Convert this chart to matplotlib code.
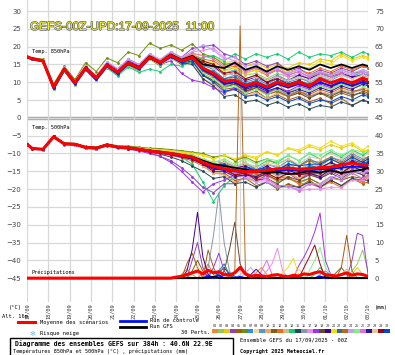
import matplotlib
matplotlib.use("Agg")
import matplotlib.pyplot as plt
import matplotlib.patheffects as pe
from matplotlib.lines import Line2D
from matplotlib.patches import Rectangle
from matplotlib.transforms import ScaledTranslation

""" Data read from the GEFS chart (17/09/2025 00Z run) """
# hours of the temperature points
HOURS_T = [0, 6, 18, 30, 42, 54, 66, 78, 90, 102, 114, 126, 138, 150, 162, 174, 186,
           198, 210, 222, 234, 246, 258, 270, 282, 294, 306, 318, 330, 342, 354, 366, 378, 384]
# precipitation points every 6 hours
HOURS_P = list(range(0, 385, 6))

DATES = ["17/09", "18/09", "19/09", "20/09", "21/09", "22/09", "23/09", "24/09", "25/09",
         "26/09", "27/09", "28/09", "29/09", "30/09", "01/10", "02/10", "03/10"]

MEAN_850 = [17.1, 16.6, 16.0, 8.6, 13.7, 9.8, 14.0, 11.2, 14.8, 12.8, 15.4, 14.0, 17.0, 15.5, 17.5, 16.0, 17.0,
            14.0, 12.5, 10.3, 10.6, 9.1, 9.9, 8.7, 10.0, 9.1, 10.0, 9.0, 11.0, 9.8, 10.9, 9.8, 11.2, 10.6]
CTRL_850 = [17.0, 16.5, 15.9, 8.2, 13.4, 9.4, 13.7, 10.6, 14.5, 12.4, 15.1, 13.7, 16.8, 15.3, 17.2, 15.7, 16.7,
            13.5, 12.0, 9.5, 10.0, 8.5, 9.5, 8.0, 9.5, 8.5, 9.5, 8.5, 10.0, 9.0, 10.0, 9.0, 10.0, 9.5]
GFS_850 = [17.1, 16.7, 16.1, 8.8, 13.9, 10.0, 14.2, 11.4, 15.0, 13.0, 15.6, 14.3, 17.3, 15.7, 17.8, 16.3, 17.4,
           15.0, 14.5, 14.0, 15.5, 13.5, 14.5, 13.0, 14.5, 13.5, 14.5, 13.5, 15.0, 14.0, 15.0, 14.0, 15.0, 14.5]

PERTS_850 = [
    [17.2, 16.7, 16.2, 8.9, 13.9, 10.2, 14.3, 11.6, 15.1, 13.0, 15.8, 14.4, 17.4, 15.2, 17.0, 15.0, 15.5,
     13.0, 12.0, 10.5, 11.5, 9.0, 10.5, 8.0, 9.5, 7.0, 8.5, 7.5, 9.0, 8.0, 9.5, 8.5, 10.0, 9.5],
    [17.0, 16.5, 15.8, 8.2, 13.5, 9.5, 13.8, 10.9, 14.5, 12.4, 15.0, 13.6, 16.6, 15.0, 17.2, 16.4, 17.6,
     16.0, 15.0, 13.5, 14.0, 12.0, 12.5, 11.0, 12.5, 11.5, 12.0, 11.0, 12.5, 12.0, 13.0, 12.0, 13.5, 13.0],
    [17.1, 16.8, 16.3, 9.0, 14.1, 10.0, 14.4, 11.5, 15.3, 13.4, 15.9, 14.5, 17.6, 16.0, 18.0, 16.8, 18.0,
     17.5, 17.0, 15.5, 16.0, 14.5, 15.5, 14.0, 15.0, 14.0, 15.5, 15.0, 16.5, 16.0, 18.0, 16.5, 17.5, 17.0],
    [17.3, 16.9, 16.1, 8.4, 13.8, 9.6, 14.1, 11.0, 15.6, 13.6, 16.5, 15.0, 17.8, 16.0, 18.5, 17.0, 19.5,
     20.0, 20.5, 18.0, 17.0, 15.0, 16.0, 14.5, 15.5, 13.0, 14.0, 12.0, 13.5, 12.5, 14.0, 13.0, 14.5, 14.0],
    [17.0, 16.4, 15.7, 8.0, 13.2, 9.2, 13.5, 10.5, 14.2, 12.0, 14.8, 13.2, 16.5, 14.6, 16.8, 15.0, 15.8,
     12.0, 10.5, 8.0, 8.5, 6.5, 7.5, 5.5, 6.5, 5.0, 6.0, 4.5, 5.5, 4.0, 5.5, 3.5, 5.0, 4.5],
    [17.2, 16.9, 16.5, 9.5, 14.5, 10.8, 15.5, 13.0, 16.8, 15.5, 18.5, 17.5, 21.0, 19.5, 20.5, 19.0, 20.8,
     18.0, 17.0, 15.0, 15.5, 13.0, 14.0, 12.5, 13.5, 12.0, 13.0, 11.5, 13.0, 12.0, 13.5, 12.5, 13.0, 12.5],
    [17.1, 16.6, 16.0, 8.6, 13.7, 9.7, 14.0, 11.2, 14.8, 12.6, 15.3, 14.0, 17.0, 15.3, 17.3, 16.2, 17.2,
     15.0, 13.5, 11.0, 12.0, 10.0, 11.0, 9.5, 11.0, 10.0, 11.0, 10.5, 12.0, 11.0, 12.5, 11.5, 13.0, 12.5],
    [17.0, 16.5, 15.9, 8.5, 13.6, 9.9, 13.9, 11.3, 14.7, 12.9, 15.2, 13.9, 16.8, 15.6, 17.4, 15.8, 16.6,
     13.5, 12.5, 10.0, 10.5, 8.5, 9.5, 8.0, 9.5, 8.5, 10.0, 9.0, 10.5, 9.5, 11.0, 10.0, 11.0, 10.5],
    [17.2, 16.7, 16.1, 8.8, 13.9, 10.0, 14.2, 11.4, 15.0, 13.0, 15.6, 14.2, 17.2, 15.7, 17.7, 16.3, 17.3,
     14.5, 14.0, 12.5, 13.5, 11.0, 12.0, 10.5, 12.0, 10.5, 11.5, 10.0, 11.5, 10.5, 12.0, 11.0, 12.5, 12.0],
    [17.0, 16.4, 15.9, 8.3, 13.4, 9.4, 13.7, 10.8, 14.4, 12.3, 15.0, 13.5, 16.6, 15.0, 16.9, 15.4, 16.2,
     11.0, 9.5, 7.0, 8.0, 6.0, 7.0, 5.5, 7.0, 6.0, 7.0, 6.0, 7.5, 6.5, 8.0, 7.0, 8.5, 8.0],
    [17.1, 16.6, 16.0, 8.7, 13.8, 9.8, 14.1, 11.1, 14.9, 12.7, 15.5, 14.1, 17.1, 15.4, 17.4, 15.9, 16.8,
     13.0, 11.5, 9.0, 9.5, 7.5, 8.5, 7.0, 8.0, 6.5, 7.5, 6.0, 7.0, 5.5, 7.0, 6.0, 7.5, 7.0],
    [17.2, 16.8, 16.2, 9.1, 14.0, 10.3, 14.5, 11.8, 15.4, 13.5, 16.0, 14.6, 17.6, 16.2, 18.0, 16.6, 17.8,
     16.5, 16.0, 14.0, 14.5, 12.5, 13.5, 12.0, 13.5, 12.5, 13.5, 12.5, 14.0, 13.0, 14.5, 13.5, 14.5, 14.0],
    [17.0, 16.5, 15.8, 8.4, 13.5, 9.6, 13.8, 11.0, 14.6, 12.5, 15.1, 13.7, 16.8, 15.2, 17.1, 15.6, 16.4,
     12.5, 11.0, 9.0, 10.0, 8.5, 9.0, 7.5, 8.5, 7.5, 8.5, 7.5, 9.0, 8.5, 9.5, 9.0, 10.0, 9.5],
    [17.1, 16.6, 15.9, 8.6, 13.6, 9.6, 13.5, 10.8, 14.0, 11.8, 14.3, 12.8, 13.7, 13.0, 15.0, 14.5, 16.0,
     17.0, 17.5, 16.0, 18.0, 16.5, 18.0, 17.0, 18.0, 16.5, 18.5, 17.0, 18.0, 17.5, 18.5, 17.0, 18.5, 18.0],
    [17.1, 16.7, 16.1, 8.7, 13.8, 9.9, 14.2, 11.3, 15.0, 12.9, 15.6, 14.3, 17.3, 15.5, 17.6, 15.5, 15.0,
     11.0, 9.0, 6.0, 6.5, 4.5, 5.0, 3.5, 4.5, 3.0, 4.0, 2.5, 3.5, 3.0, 4.5, 3.5, 5.0, 4.5],
    [17.0, 16.5, 15.9, 8.5, 13.6, 9.8, 14.0, 11.1, 14.8, 12.8, 15.3, 14.0, 17.0, 15.5, 17.4, 15.8, 16.5,
     13.5, 12.0, 10.0, 10.5, 8.5, 9.0, 7.0, 8.0, 6.5, 7.5, 6.0, 7.0, 6.5, 7.5, 7.0, 8.0, 7.5],
    [17.2, 16.8, 16.2, 8.9, 14.0, 10.1, 14.4, 11.5, 15.2, 13.2, 15.8, 14.4, 17.4, 15.9, 17.9, 16.5, 18.5,
     19.0, 19.5, 17.0, 16.0, 13.5, 14.5, 12.5, 13.5, 11.5, 12.5, 11.0, 12.5, 11.5, 13.0, 12.0, 13.0, 12.5],
    [17.1, 16.6, 16.0, 8.6, 13.6, 9.8, 14.2, 11.4, 15.5, 13.8, 16.2, 14.5, 17.2, 15.0, 16.0, 12.5, 10.6,
     10.0, 8.5, 7.0, 8.5, 7.0, 8.5, 7.0, 8.5, 7.5, 9.0, 8.0, 9.5, 8.5, 10.0, 9.0, 10.5, 10.0],
    [17.0, 16.5, 15.8, 8.3, 13.4, 9.5, 13.8, 11.0, 14.6, 12.6, 15.2, 13.8, 16.8, 15.3, 17.2, 15.6, 16.3,
     12.0, 10.5, 8.5, 9.5, 7.5, 8.5, 6.5, 7.5, 6.0, 7.0, 5.5, 7.0, 6.0, 7.5, 6.5, 7.0, 6.5],
    [17.2, 16.7, 16.1, 8.8, 13.9, 9.9, 14.1, 11.3, 14.9, 12.9, 15.5, 14.1, 17.1, 15.6, 17.6, 16.2, 17.4,
     15.5, 14.5, 12.0, 12.5, 10.5, 11.5, 10.0, 11.5, 10.5, 12.0, 11.0, 12.5, 11.5, 12.5, 11.5, 12.0, 11.5],
    [17.1, 16.7, 16.2, 9.0, 14.0, 10.2, 14.3, 11.6, 15.1, 13.1, 15.7, 14.3, 17.3, 15.8, 17.8, 16.4, 17.6,
     16.0, 15.5, 13.0, 14.0, 12.5, 13.5, 12.5, 14.0, 13.0, 14.5, 14.0, 16.0, 15.0, 17.5, 16.0, 17.0, 16.5],
    [17.0, 16.5, 15.9, 8.4, 13.5, 9.6, 13.9, 11.0, 14.7, 12.6, 15.2, 13.8, 16.9, 15.2, 17.2, 15.7, 16.7,
     14.0, 13.0, 11.0, 11.5, 9.5, 10.5, 9.0, 10.5, 9.5, 10.5, 9.5, 10.5, 10.0, 11.0, 10.0, 10.5, 10.0],
    [17.1, 16.6, 16.0, 8.6, 13.7, 9.8, 14.0, 11.2, 14.8, 12.8, 15.4, 14.0, 17.0, 15.5, 17.5, 16.0, 17.0,
     13.0, 12.0, 9.5, 10.0, 8.0, 8.5, 6.5, 7.5, 6.0, 7.5, 6.5, 8.0, 7.0, 8.5, 7.5, 8.0, 7.5],
    [17.2, 16.8, 16.3, 9.0, 14.2, 10.3, 14.6, 11.8, 15.8, 13.8, 16.4, 15.0, 18.0, 16.5, 18.6, 17.0, 18.6,
     20.5, 19.0, 16.5, 17.0, 14.5, 15.0, 13.0, 14.0, 12.5, 13.5, 12.0, 13.0, 12.0, 13.5, 12.5, 13.5, 13.0],
    [17.0, 16.4, 15.7, 8.1, 13.2, 9.3, 13.6, 10.7, 14.3, 12.2, 14.9, 13.4, 16.4, 14.9, 16.7, 15.3, 16.2,
     12.5, 11.0, 8.5, 9.0, 7.0, 8.0, 6.5, 8.0, 7.0, 8.5, 7.5, 9.0, 8.0, 9.5, 8.5, 9.0, 8.5],
    [17.1, 16.7, 16.1, 8.8, 13.9, 10.0, 14.3, 11.5, 15.2, 13.2, 15.7, 14.4, 17.4, 15.8, 17.9, 16.6, 18.2,
     17.5, 16.5, 14.5, 15.0, 13.0, 14.0, 12.5, 13.5, 12.0, 13.0, 11.5, 12.5, 11.5, 12.5, 11.0, 12.0, 11.5],
    [17.0, 16.6, 15.9, 8.5, 13.6, 9.7, 13.9, 11.1, 14.7, 12.7, 15.3, 13.9, 16.9, 15.4, 17.3, 15.8, 16.8,
     14.0, 12.5, 10.0, 10.0, 8.0, 9.0, 7.5, 8.5, 7.0, 8.0, 7.0, 8.5, 7.5, 9.0, 8.0, 9.5, 9.0],
    [17.1, 16.6, 16.0, 8.7, 13.8, 9.9, 14.1, 11.3, 14.9, 12.9, 15.5, 14.1, 17.1, 15.6, 17.6, 16.1, 17.1,
     15.0, 14.0, 12.0, 12.5, 11.0, 11.5, 10.5, 11.5, 10.5, 11.5, 10.5, 12.0, 11.0, 12.0, 11.0, 12.0, 11.5],
    [17.2, 16.7, 16.1, 8.8, 13.8, 9.9, 14.2, 11.4, 15.0, 13.0, 15.6, 14.2, 17.2, 15.6, 17.7, 16.3, 17.5,
     16.0, 15.0, 12.5, 13.0, 11.0, 12.0, 10.0, 11.0, 9.5, 10.5, 9.0, 10.0, 9.0, 10.5, 9.5, 10.5, 10.0],
    [17.0, 16.5, 15.8, 8.3, 13.4, 9.5, 13.7, 10.9, 14.5, 12.4, 15.0, 13.6, 16.7, 15.1, 17.0, 15.4, 16.0,
     12.0, 10.0, 7.5, 8.0, 6.0, 6.5, 5.0, 6.0, 4.5, 5.5, 4.0, 5.0, 4.5, 6.0, 5.0, 6.5, 6.0],
]

MEAN_500 = [-7.4, -8.6, -8.8, -5.3, -7.3, -7.4, -8.3, -8.5, -7.6, -8.2, -8.4, -8.8, -9.3, -9.6, -10.0, -10.5, -11.0,
            -12.5, -13.6, -14.3, -14.8, -15.1, -15.0, -14.7, -14.3, -14.1, -14.4, -14.3, -14.0, -13.8, -13.2, -12.7, -13.2, -13.3]
CTRL_500 = [-7.5, -8.7, -8.9, -5.4, -7.4, -7.5, -8.4, -8.6, -7.7, -8.3, -8.5, -8.9, -9.4, -9.7, -10.2, -10.7, -11.3,
            -12.8, -14.0, -14.7, -15.0, -15.3, -15.0, -15.2, -14.8, -14.6, -14.9, -14.7, -14.5, -14.3, -14.0, -13.6, -13.8, -13.5]
GFS_500 = [-7.4, -8.6, -8.8, -5.2, -7.2, -7.3, -8.2, -8.4, -7.5, -8.1, -8.3, -8.7, -9.2, -9.5, -9.9, -10.4, -10.9,
           -12.0, -13.0, -13.5, -14.0, -14.5, -15.0, -15.5, -15.2, -15.8, -15.5, -15.0, -15.3, -14.8, -15.5, -15.0, -14.5, -14.0]

PERTS_500 = [
    [-7.3, -8.5, -8.7, -5.0, -7.1, -7.2, -8.1, -8.3, -7.4, -8.0, -8.2, -8.5, -9.0, -9.2, -9.5, -10.0, -10.4,
     -11.5, -13.0, -12.5, -14.5, -13.5, -15.5, -14.5, -16.5, -15.0, -17.0, -15.5, -16.5, -14.5, -16.0, -14.0, -15.5, -14.5],
    [-7.4, -8.7, -8.9, -5.4, -7.4, -7.5, -8.4, -8.7, -7.8, -8.3, -8.5, -8.9, -9.4, -9.8, -10.3, -10.8, -11.5,
     -13.0, -14.5, -14.0, -16.0, -15.5, -17.5, -16.0, -18.0, -17.0, -18.5, -17.0, -18.5, -16.5, -17.5, -15.5, -17.0, -16.5],
    [-7.5, -8.6, -8.8, -5.2, -7.2, -7.3, -8.2, -8.4, -7.5, -8.0, -8.1, -8.4, -8.7, -8.9, -9.2, -9.5, -9.8,
     -10.5, -11.5, -10.5, -12.0, -10.5, -11.5, -9.5, -10.5, -8.5, -9.5, -8.0, -9.0, -7.5, -8.5, -7.5, -9.5, -9.0],
    [-7.4, -8.6, -8.9, -5.5, -7.5, -7.6, -8.5, -8.7, -7.9, -8.5, -8.8, -9.3, -10.0, -10.8, -12.0, -14.0, -16.5,
     -19.5, -21.0, -18.5, -18.5, -16.5, -18.0, -16.0, -17.5, -15.5, -17.5, -15.5, -17.0, -15.0, -16.5, -14.5, -16.0, -15.0],
    [-7.3, -8.5, -8.8, -5.3, -7.3, -7.4, -8.3, -8.5, -7.7, -8.3, -8.6, -9.0, -9.5, -10.0, -10.5, -11.2, -12.0,
     -13.5, -15.5, -15.5, -17.5, -17.0, -19.0, -18.0, -20.0, -18.5, -19.5, -17.5, -19.5, -17.5, -19.0, -17.0, -18.5, -18.0],
    [-7.4, -8.6, -8.7, -5.1, -7.1, -7.2, -8.0, -8.2, -7.3, -7.8, -7.9, -8.2, -8.5, -8.6, -8.9, -9.2, -9.6,
     -10.0, -11.0, -10.5, -12.0, -11.0, -12.5, -11.5, -13.0, -11.5, -13.5, -12.0, -13.5, -11.5, -13.0, -11.0, -12.5, -11.5],
    [-7.4, -8.6, -8.8, -5.3, -7.3, -7.4, -8.3, -8.5, -7.6, -8.2, -8.4, -8.8, -9.3, -9.6, -10.1, -10.6, -11.2,
     -12.5, -13.5, -12.5, -14.0, -12.5, -14.5, -13.0, -14.0, -12.0, -13.5, -11.5, -13.0, -11.0, -12.0, -10.0, -11.5, -11.0],
    [-7.5, -8.7, -8.9, -5.4, -7.4, -7.5, -8.4, -8.6, -7.7, -8.3, -8.5, -8.9, -9.4, -9.7, -10.2, -10.8, -11.4,
     -13.0, -15.0, -15.0, -17.0, -16.0, -17.5, -15.0, -16.0, -14.0, -15.5, -15.0, -16.5, -14.5, -15.5, -13.5, -14.5, -13.0],
    [-7.3, -8.5, -8.7, -5.2, -7.2, -7.3, -8.2, -8.4, -7.5, -8.1, -8.3, -8.7, -9.1, -9.4, -9.8, -10.2, -10.7,
     -12.0, -13.0, -12.5, -13.5, -13.0, -14.5, -14.0, -15.0, -13.0, -14.5, -13.0, -14.5, -12.5, -13.5, -11.5, -13.0, -12.0],
    [-7.4, -8.6, -8.8, -5.3, -7.3, -7.4, -8.3, -8.5, -7.6, -8.2, -8.5, -8.9, -9.4, -9.8, -10.3, -10.9, -11.6,
     -13.5, -15.5, -16.0, -18.0, -17.0, -18.0, -16.5, -17.5, -15.5, -17.0, -15.0, -16.5, -14.5, -16.0, -14.0, -15.5, -14.5],
    [-7.3, -8.5, -8.8, -5.2, -7.2, -7.3, -8.2, -8.4, -7.5, -8.1, -8.4, -8.8, -9.2, -9.6, -10.0, -10.5, -11.0,
     -12.5, -14.0, -14.0, -15.5, -15.0, -16.5, -16.0, -17.5, -17.0, -18.0, -17.0, -18.5, -16.5, -17.5, -16.5, -17.0, -16.0],
    [-7.4, -8.7, -8.9, -5.4, -7.4, -7.5, -8.4, -8.6, -7.7, -8.3, -8.5, -8.8, -9.2, -9.5, -9.8, -10.3, -10.8,
     -12.0, -13.0, -13.0, -14.5, -14.0, -16.0, -15.5, -17.0, -16.5, -18.5, -18.5, -19.5, -18.0, -19.5, -17.0, -18.0, -16.5],
    [-7.5, -8.6, -8.8, -5.3, -7.3, -7.4, -8.3, -8.5, -7.6, -8.2, -8.4, -8.7, -9.1, -9.4, -9.8, -10.2, -10.6,
     -11.5, -12.5, -12.0, -13.5, -13.0, -13.5, -13.0, -13.5, -13.0, -14.5, -13.0, -13.5, -13.0, -13.5, -12.0, -13.5, -13.5],
    [-7.4, -8.6, -8.8, -5.3, -7.2, -7.3, -8.2, -8.4, -7.5, -8.1, -8.3, -8.6, -9.0, -9.4, -10.0, -11.0, -13.0,
     -18.0, -23.5, -19.0, -16.5, -14.0, -14.0, -12.0, -12.5, -10.5, -12.0, -10.0, -11.5, -9.5, -11.0, -9.0, -10.5, -9.5],
    [-7.3, -8.5, -8.7, -5.2, -7.2, -7.3, -8.2, -8.4, -7.6, -8.2, -8.5, -9.0, -9.6, -10.2, -11.0, -12.0, -13.5,
     -15.0, -17.0, -16.5, -18.5, -18.0, -19.5, -18.0, -19.5, -19.0, -19.5, -18.0, -19.5, -17.5, -19.0, -17.0, -17.5, -17.5],
    [-7.4, -8.6, -8.8, -5.3, -7.3, -7.4, -8.3, -8.5, -7.6, -8.2, -8.4, -8.8, -9.2, -9.6, -10.0, -10.5, -11.0,
     -12.0, -13.5, -13.5, -15.0, -14.5, -16.0, -14.5, -16.0, -15.5, -16.0, -14.5, -16.0, -14.0, -14.5, -14.0, -14.5, -14.5],
    [-7.5, -8.7, -8.9, -5.4, -7.4, -7.5, -8.4, -8.6, -7.7, -8.3, -8.6, -9.0, -9.5, -9.9, -10.4, -11.0, -11.5,
     -12.5, -14.0, -14.0, -16.0, -16.0, -17.5, -17.5, -19.0, -19.0, -20.5, -20.0, -20.0, -19.5, -19.5, -17.5, -17.5, -16.5],
    [-7.4, -8.6, -8.8, -5.2, -7.2, -7.4, -8.3, -8.5, -7.6, -8.2, -8.5, -9.0, -9.8, -10.8, -12.5, -15.0, -18.0,
     -20.8, -18.5, -17.5, -16.0, -16.5, -15.0, -16.0, -14.5, -15.5, -14.0, -15.0, -13.5, -14.5, -13.0, -14.0, -13.0, -13.0],
    [-7.3, -8.5, -8.7, -5.2, -7.2, -7.3, -8.2, -8.4, -7.5, -8.1, -8.4, -8.8, -9.2, -9.6, -10.1, -10.7, -11.3,
     -12.5, -14.0, -14.0, -16.0, -15.5, -17.5, -17.0, -18.5, -16.5, -17.5, -16.0, -17.0, -15.5, -17.0, -15.0, -16.0, -15.5],
    [-7.4, -8.6, -8.8, -5.3, -7.3, -7.4, -8.3, -8.5, -7.6, -8.2, -8.4, -8.8, -9.2, -9.5, -9.9, -10.4, -10.9,
     -12.0, -13.0, -12.5, -14.0, -13.5, -15.0, -13.5, -15.0, -14.5, -16.0, -15.5, -16.5, -14.5, -15.5, -13.5, -15.0, -14.0],
    [-7.4, -8.6, -8.8, -5.2, -7.2, -7.3, -8.2, -8.4, -7.5, -8.0, -8.2, -8.5, -8.8, -9.0, -9.3, -9.6, -10.0,
     -10.5, -11.5, -10.5, -11.5, -10.5, -11.0, -9.5, -10.5, -8.5, -9.0, -7.5, -8.5, -6.5, -8.0, -7.0, -9.0, -8.0],
    [-7.5, -8.7, -8.9, -5.4, -7.4, -7.5, -8.4, -8.6, -7.7, -8.3, -8.5, -8.9, -9.3, -9.7, -10.2, -10.7, -11.2,
     -12.5, -14.0, -13.5, -15.0, -14.5, -15.0, -14.5, -15.0, -13.5, -15.0, -13.5, -14.0, -12.5, -14.0, -12.0, -12.5, -12.5],
    [-7.3, -8.5, -8.7, -5.2, -7.2, -7.3, -8.2, -8.4, -7.5, -8.1, -8.3, -8.7, -9.1, -9.5, -10.0, -10.6, -11.2,
     -12.5, -14.5, -14.5, -16.0, -15.5, -15.5, -14.0, -14.5, -13.0, -13.5, -12.0, -12.5, -11.0, -12.5, -10.5, -12.0, -11.0],
    [-7.4, -8.6, -8.8, -5.3, -7.3, -7.4, -8.3, -8.5, -7.6, -8.2, -8.4, -8.8, -9.3, -9.7, -10.2, -10.7, -11.4,
     -13.0, -14.5, -14.5, -16.5, -16.5, -18.0, -18.0, -19.5, -19.5, -20.0, -18.5, -18.5, -16.5, -16.5, -15.0, -15.5, -14.5],
    [-7.4, -8.6, -8.8, -5.3, -7.3, -7.4, -8.3, -8.5, -7.6, -8.2, -8.4, -8.7, -9.1, -9.4, -9.7, -10.1, -10.5,
     -11.5, -12.5, -11.5, -13.0, -11.5, -13.0, -11.5, -12.0, -10.5, -12.0, -10.0, -10.5, -9.0, -10.5, -9.0, -9.5, -9.5],
    [-7.5, -8.7, -8.9, -5.4, -7.4, -7.5, -8.4, -8.6, -7.7, -8.3, -8.5, -8.9, -9.4, -9.8, -10.3, -10.8, -11.3,
     -12.5, -14.0, -14.0, -15.5, -15.5, -17.0, -17.0, -19.0, -19.0, -20.5, -18.5, -19.0, -17.0, -17.5, -15.5, -17.0, -16.0],
    [-7.3, -8.5, -8.7, -5.2, -7.2, -7.3, -8.2, -8.4, -7.5, -8.1, -8.4, -8.8, -9.3, -9.7, -10.2, -10.8, -11.5,
     -13.0, -15.0, -15.0, -16.5, -16.0, -16.5, -15.0, -15.5, -14.0, -14.5, -14.0, -14.0, -12.5, -14.0, -12.0, -13.5, -12.5],
    [-7.4, -8.6, -8.8, -5.3, -7.3, -7.4, -8.3, -8.5, -7.6, -8.2, -8.4, -8.8, -9.2, -9.6, -10.0, -10.5, -11.0,
     -12.0, -13.0, -12.5, -14.0, -12.5, -14.0, -12.5, -13.0, -11.5, -13.0, -11.0, -11.5, -10.0, -11.5, -9.5, -11.0, -10.0],
    [-7.4, -8.6, -8.8, -5.3, -7.3, -7.4, -8.3, -8.5, -7.7, -8.3, -8.6, -9.0, -9.5, -9.9, -10.4, -11.0, -11.6,
     -13.0, -14.5, -14.5, -16.0, -15.5, -17.0, -15.5, -17.0, -15.5, -16.0, -15.5, -15.5, -14.0, -15.5, -13.5, -14.0, -14.0],
    [-7.3, -8.5, -8.7, -5.2, -7.2, -7.3, -8.2, -8.4, -7.5, -8.1, -8.3, -8.7, -9.1, -9.5, -9.9, -10.4, -10.9,
     -12.0, -13.5, -13.0, -14.5, -14.0, -14.5, -14.0, -14.5, -13.0, -13.5, -13.0, -13.0, -11.5, -13.0, -11.0, -12.5, -11.5],
]

# precipitation (mm), 6-hourly
MEAN_PRECIP = [0, 0, 0, 0, 0, 0, 0, 0, 0, 0, 0, 0, 0, 0, 0, 0, 0, 0, 0, 0, 0, 0, 0, 0, 0, 0, 0, 0,
               0.3, 0.5, 1.0, 1.5, 2.0, 1.2, 2.2, 1.5, 1.8, 1.0, 0.8, 1.5, 3.0, 1.2, 0.5, 0.8, 0.6, 0.4,
               0.8, 1.0, 0.6, 0.4, 0.8, 0.6, 1.2, 1.0, 1.5, 1.8, 1.0, 0.8, 0.6, 1.0, 1.5, 0.8, 1.2, 1.0, 0.5]
# (hour, mm) for control and GFS runs, zero elsewhere
CTRL_PRECIP = [(204, 0.6), (216, 0.8), (240, 0.4), (330, 0.5)]
GFS_PRECIP = [(210, 0.4), (336, 0.3)]
# (member, hour, mm) for the 30 perturbations, zero elsewhere
PRECIP_EVENTS = [
    (20, 180, 2.0), (20, 186, 8.0), (20, 192, 18.5), (20, 198, 6.0), (20, 204, 1.0),
    (5, 180, 4.0), (5, 186, 7.0), (5, 192, 3.0), (5, 204, 7.9), (5, 210, 3.0),
    (5, 354, 3.0), (5, 360, 12.0), (5, 366, 2.0),
    (16, 204, 3.0), (16, 210, 12.0), (16, 216, 23.9), (16, 222, 10.0), (16, 228, 2.0),
    (18, 210, 3.0), (18, 216, 7.0), (18, 222, 2.0), (18, 306, 3.5), (18, 312, 6.0),
    (18, 318, 9.0), (18, 324, 13.0), (18, 330, 18.3), (18, 336, 5.0), (18, 342, 1.0),
    (19, 222, 2.0), (19, 228, 8.0), (19, 234, 15.7), (19, 240, 4.0), (19, 246, 1.0),
    (23, 234, 2.0), (23, 240, 70.8), (23, 246, 1.5),
    (22, 216, 2.0), (22, 222, 4.0), (22, 228, 1.0),
    (4, 186, 5.0), (4, 192, 10.0), (4, 198, 3.0), (4, 366, 5.0), (4, 372, 12.6), (4, 378, 12.0), (4, 384, 1.0),
    (17, 270, 2.0), (17, 276, 4.0), (17, 282, 8.4), (17, 288, 2.0),
    (21, 288, 1.5), (21, 294, 3.0), (21, 300, 5.6), (21, 306, 1.0),
    (29, 312, 3.0), (29, 318, 6.0), (29, 324, 9.3), (29, 330, 4.0),
    (25, 318, 2.0), (25, 324, 5.0), (25, 330, 8.7), (25, 336, 3.0), (25, 342, 1.0),
    (2, 366, 2.0), (2, 372, 4.0), (2, 378, 7.9), (2, 384, 2.0),
    (3, 366, 1.0), (3, 372, 3.0), (3, 378, 1.0),
    (24, 246, 1.5), (24, 252, 3.0), (24, 258, 1.0),
    (26, 264, 2.0), (26, 270, 5.0), (26, 276, 1.0),
    (1, 174, 1.0), (1, 180, 2.5), (1, 186, 1.0), (1, 258, 1.5), (1, 264, 3.0), (1, 270, 1.0),
    (10, 240, 1.0), (10, 246, 2.0), (10, 252, 0.5),
    (8, 186, 1.0), (8, 192, 3.5), (8, 198, 1.0),
    (7, 204, 1.0), (7, 210, 2.0), (7, 216, 1.0),
    (28, 300, 1.0), (28, 306, 2.5), (28, 312, 1.0),
    (13, 354, 1.0), (13, 360, 2.5), (13, 366, 1.0),
    (11, 186, 2.0), (11, 192, 5.0), (11, 198, 2.0), (11, 348, 1.5), (11, 354, 3.0), (11, 360, 1.0),
    (27, 252, 1.0), (27, 258, 2.5), (27, 264, 1.0),
    (6, 234, 1.5), (6, 240, 3.0), (6, 246, 1.0),
    (12, 198, 1.5), (12, 204, 4.0), (12, 210, 1.0),
    (9, 330, 1.0), (9, 336, 2.0), (9, 342, 1.0),
    (14, 324, 1.0), (14, 330, 3.0), (14, 336, 1.0),
    (15, 216, 1.5), (15, 222, 3.0), (15, 228, 1.0),
    (30, 222, 1.0), (30, 228, 1.5), (30, 234, 0.5),
]

PERT_COLORS = ["#f08830", "#90c860", "#f0c800", "#9040c0", "#a85810", "#70900a", "#2890f0", "#f0d8a8",
               "#5898c8", "#f0a868", "#806018", "#f06818", "#c8c088", "#10d070", "#284858", "#8898a8",
               "#f088f0", "#a030f0", "#684828", "#400090", "#f0e010", "#2870a0", "#b86820", "#c0a0f8",
               "#80f080", "#e070d8", "#3010a0", "#e0c898", "#a00010", "#0048d0"]

PRECIP_OFFSET = 45  # mm axis on the right = left axis + 45

W, H = 395, 355


def fx(x):
    return x / W


def fy(y):
    return 1 - y / H


def main():
    fig = plt.figure(figsize=(W / 100, H / 100), dpi=100)
    ax = fig.add_axes([fx(27), fy(302), (368 - 27) / W, 302 / H])

    """ precipitation series on the shifted scale """
    p_perts = [[0.0] * len(HOURS_P) for _ in range(30)]
    for m, h, mm in PRECIP_EVENTS:
        p_perts[m - 1][h // 6] = mm
    p_ctrl = [0.0] * len(HOURS_P)
    for h, mm in CTRL_PRECIP:
        p_ctrl[h // 6] = mm
    p_gfs = [0.0] * len(HOURS_P)
    for h, mm in GFS_PRECIP:
        p_gfs[h // 6] = mm
    shift = lambda s: [v - PRECIP_OFFSET for v in s]

    """ perturbations """
    for i in range(30):
        c = PERT_COLORS[i]
        ax.plot(HOURS_T, PERTS_850[i], color=c, lw=0.7, marker="o", ms=1.0, zorder=2)
        ax.plot(HOURS_T, PERTS_500[i], color=c, lw=0.7, marker="o", ms=1.0, zorder=2)
        ax.plot(HOURS_P, shift(p_perts[i]), color=c, lw=0.7, zorder=2)

    """ control, GFS and mean """
    for s850, s500, sp, col in [(CTRL_850, CTRL_500, p_ctrl, "#0010f0"),
                                (GFS_850, GFS_500, p_gfs, "#000000")]:
        ax.plot(HOURS_T, s850, color=col, lw=1.3, zorder=3)
        ax.plot(HOURS_T, s500, color=col, lw=1.3, zorder=3)
        ax.plot(HOURS_P, shift(sp), color=col, lw=1.3, zorder=3)
    ax.plot(HOURS_T, MEAN_850, color="#ff0000", lw=2.2, zorder=4)
    ax.plot(HOURS_T, MEAN_500, color="#ff0000", lw=2.2, zorder=4)
    ax.plot(HOURS_P, shift(MEAN_PRECIP), color="#ff0000", lw=2.2, zorder=4)

    """ axes """
    ax.set_xlim(0, 384)
    ax.set_ylim(-51.7, 33.1)
    ax.set_yticks(range(-45, 31, 5))
    ax.set_xticks(range(0, 385, 24))
    ax.set_xticklabels(DATES, rotation=90, fontsize=3.8, family="DejaVu Sans Mono",
                       color="#333333", va="top")
    for lab in ax.get_xticklabels():
        lab.set_transform(lab.get_transform() + ScaledTranslation(0.025, 0, fig.dpi_scale_trans))
    ax.tick_params(axis="both", length=0)
    ax.tick_params(axis="y", labelsize=5, labelcolor="#444444", pad=4.3)
    ax.tick_params(axis="x", pad=0.8)
    ax.grid(True, color="#d8d8d8", lw=0.9, zorder=0)
    ax.axhline(0, color="#a8a8a8", lw=2.5, zorder=1)
    for sp in ax.spines.values():
        sp.set_visible(False)

    sec = ax.secondary_yaxis("right", functions=(lambda v: v + PRECIP_OFFSET,
                                                 lambda v: v - PRECIP_OFFSET))
    sec.set_yticks(range(0, 76, 5))
    sec.tick_params(length=0, labelsize=5, labelcolor="#444444", pad=5)
    for sp in sec.spines.values():
        sp.set_visible(False)

    """ texts inside the plot """
    mono = "DejaVu Sans Mono"
    fig.text(fx(30), fy(27), "GEFS-00Z-UPD:17-09-2025  11:00", fontsize=8.5,
             family=["Liberation Sans", "DejaVu Sans"], color="#f0f028", va="center",
             path_effects=[pe.withStroke(linewidth=0.9, foreground="#585858")])
    fig.text(fx(32), fy(52), "Temp. 850hPa", fontsize=3.8, family=mono, va="center")
    fig.text(fx(32), fy(128), "Temp. 500hPa", fontsize=3.8, family=mono, va="center")
    fig.text(fx(32), fy(272), "Précipitations", fontsize=3.8, family=mono, va="center")

    """ texts below the plot """
    fig.text(fx(9), fy(307), "(°C)", fontsize=3.9, family=mono, va="center")
    fig.text(fx(2), fy(316), "Alt. 16m", fontsize=3.9, family=mono, va="center")
    fig.text(fx(375), fy(307), "(mm)", fontsize=3.9, family=mono, va="center")

    fig.add_artist(Line2D([fx(18), fx(35)], [fy(322)] * 2, color="#ff0000", lw=2.2))
    fig.text(fx(40), fy(322), "Moyenne des scénarios", fontsize=3.9, family=mono, va="center")
    fig.add_artist(Line2D([fx(120), fx(146)], [fy(321)] * 2, color="#0010f0", lw=2.0))
    fig.text(fx(150), fy(321), "Run de controle", fontsize=3.9, family=mono, va="center")
    fig.add_artist(Line2D([fx(120), fx(146)], [fy(327)] * 2, color="#000000", lw=2.0))
    fig.text(fx(150), fy(327), "Run GFS", fontsize=3.9, family=mono, va="center")
    fig.text(fx(181), fy(332), "30 Perts.", fontsize=3.9, family=mono, va="center")
    fig.text(fx(32), fy(334), "\u2744", fontsize=5, color="#70b8f0", va="center", ha="center")
    fig.text(fx(40), fy(334), "Risque neige", fontsize=3.9, family=mono, va="center")

    for i in range(30):
        x0 = 212 + i * 5.93
        fig.text(fx(x0 + 2.8), fy(326), "%02d" % (i + 1), fontsize=2.6, family=mono,
                 va="center", ha="center", color="#333333")
        fig.add_artist(Rectangle((fx(x0), fy(333)), 5.9 / W, 4 / H, transform=fig.transFigure,
                                 facecolor=PERT_COLORS[i], edgecolor="none"))

    fig.add_artist(Rectangle((fx(10), fy(356)), 223 / W, 18 / H, transform=fig.transFigure,
                             facecolor="none", edgecolor="#000000", lw=1.0))
    fig.text(fx(15), fy(344), "Diagramme des ensembles GEFS sur 384h : 40.6N 22.9E",
             fontsize=4.7, family=mono, weight="bold", va="center")
    fig.text(fx(13), fy(351), "Températures 850hPa et 500hPa (°C) , précipitations (mm)",
             fontsize=3.75, family=mono, va="center")
    fig.text(fx(240), fy(340), "Ensemble GEFS du 17/09/2025 - 00Z", fontsize=3.9,
             family=mono, va="center")
    fig.text(fx(240), fy(351), "Copyright 2025 Meteociel.fr", fontsize=3.7, family=mono,
             weight="bold", va="center")

    fig.savefig("out.png", dpi=100)


if __name__ == "__main__":
    main()
